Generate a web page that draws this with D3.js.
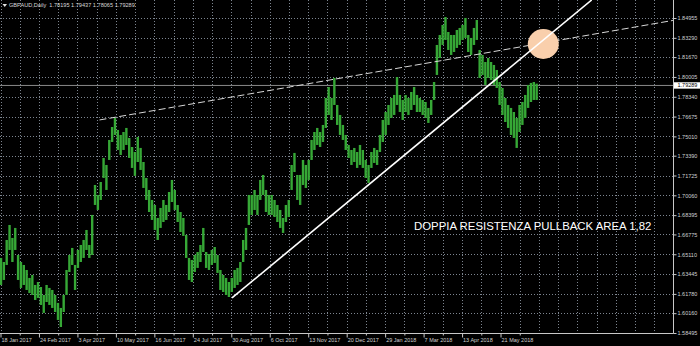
<!DOCTYPE html>
<html>
<head>
<meta charset="utf-8">
<script src="https://cdn.jsdelivr.net/npm/d3@7"></script>
<style>
  html, body { margin: 0; padding: 0; background: #000; }
  svg { display: block; }
</style>
</head>
<body>
<div id="chart"></div>
<script>
// GBPAUD daily, one entry per 2 trading days (bar i sits on trading day 2*i from 18 Jan 2017)
const barHigh = [
  1.6480, 1.6446, 1.6631, 1.6757, 1.6648, 1.6732, 1.6505, 1.6446, 1.6421, 1.6379,
  1.6312, 1.6337, 1.6253, 1.6278, 1.6236, 1.6169, 1.6253, 1.6228, 1.6211, 1.6169,
  1.6102, 1.6060, 1.6169, 1.6379, 1.6505, 1.6564, 1.6421, 1.6547, 1.6589, 1.6631,
  1.6715, 1.6589, 1.6841, 1.7093, 1.7009, 1.7118, 1.7320, 1.7261, 1.7471, 1.7580,
  1.7656, 1.7555, 1.7513, 1.7538, 1.7572, 1.7488, 1.7412, 1.7370, 1.7496, 1.7404,
  1.7286, 1.7152, 1.7051, 1.6967, 1.6925, 1.6816, 1.6900, 1.6967, 1.6925, 1.7034,
  1.7135, 1.7051, 1.6925, 1.6866, 1.6816, 1.6673, 1.6480, 1.6463, 1.6505, 1.6530,
  1.6589, 1.6732, 1.6530, 1.6513, 1.6547, 1.6572, 1.6505, 1.6379, 1.6337, 1.6312,
  1.6278, 1.6312, 1.6379, 1.6396, 1.6446, 1.6631, 1.6732, 1.7009, 1.7009, 1.7051,
  1.7009, 1.7135, 1.7177, 1.7051, 1.7009, 1.7009, 1.6967, 1.6925, 1.6883, 1.6816,
  1.6925, 1.6967, 1.7261, 1.7362, 1.7177, 1.7177, 1.7303, 1.7261, 1.7303, 1.7471,
  1.7538, 1.7572, 1.7538, 1.7597, 1.7824, 1.7916, 1.7824, 1.7992, 1.7765, 1.7681,
  1.7597, 1.7513, 1.7429, 1.7387, 1.7404, 1.7370, 1.7429, 1.7387, 1.7303, 1.7261,
  1.7370, 1.7404, 1.7387, 1.7513, 1.7639, 1.7706, 1.7765, 1.7824, 1.7849, 1.8000,
  1.7849, 1.7807, 1.7849, 1.7824, 1.7874, 1.7916, 1.7849, 1.7824, 1.7807, 1.7790,
  1.7740, 1.7807, 1.7958, 1.8269, 1.8353, 1.8437, 1.8504, 1.8378, 1.8353, 1.8353,
  1.8395, 1.8412, 1.8437, 1.8496, 1.8353, 1.8328, 1.8412, 1.8479, 1.8227, 1.8185,
  1.8126, 1.8160, 1.8126, 1.8101, 1.8059, 1.7958, 1.7908, 1.7824, 1.7765, 1.7740,
  1.7706, 1.7656, 1.7765, 1.7790, 1.7849, 1.7933, 1.7950, 1.7958, 1.7944
];
const barLow = [
  1.6253, 1.6295, 1.6421, 1.6547, 1.6446, 1.6547, 1.6295, 1.6228, 1.6253, 1.6211,
  1.6185, 1.6169, 1.6127, 1.6144, 1.6085, 1.6018, 1.6110, 1.6085, 1.6060, 1.6026,
  1.5959, 1.5900, 1.6026, 1.6169, 1.6362, 1.6421, 1.6211, 1.6396, 1.6446, 1.6480,
  1.6547, 1.6480, 1.6505, 1.6925, 1.6883, 1.6967, 1.7152, 1.7051, 1.7303, 1.7454,
  1.7513, 1.7387, 1.7345, 1.7387, 1.7429, 1.7320, 1.7236, 1.7169, 1.7286, 1.7219,
  1.7068, 1.6967, 1.6866, 1.6799, 1.6715, 1.6631, 1.6732, 1.6782, 1.6799, 1.6866,
  1.6950, 1.6883, 1.6782, 1.6698, 1.6665, 1.6480, 1.6295, 1.6278, 1.6362, 1.6396,
  1.6446, 1.6530, 1.6396, 1.6379, 1.6421, 1.6438, 1.6354, 1.6211, 1.6194, 1.6169,
  1.6152, 1.6194, 1.6228, 1.6253, 1.6278, 1.6446, 1.6547, 1.6757, 1.6841, 1.6883,
  1.6841, 1.6967, 1.7009, 1.6866, 1.6841, 1.6841, 1.6824, 1.6782, 1.6732, 1.6690,
  1.6782, 1.6824, 1.7051, 1.7202, 1.6967, 1.6925, 1.7093, 1.7068, 1.7135, 1.7303,
  1.7387, 1.7429, 1.7412, 1.7454, 1.7572, 1.7681, 1.7639, 1.7765, 1.7597, 1.7513,
  1.7471, 1.7387, 1.7320, 1.7261, 1.7286, 1.7236, 1.7261, 1.7236, 1.7152, 1.7110,
  1.7236, 1.7278, 1.7261, 1.7370, 1.7454, 1.7513, 1.7597, 1.7656, 1.7681, 1.7765,
  1.7706, 1.7639, 1.7706, 1.7681, 1.7723, 1.7765, 1.7706, 1.7706, 1.7681, 1.7656,
  1.7614, 1.7681, 1.7807, 1.8017, 1.8160, 1.8269, 1.8311, 1.8227, 1.8185, 1.8210,
  1.8244, 1.8269, 1.8311, 1.8328, 1.8210, 1.8185, 1.8269, 1.8311, 1.7992, 1.8017,
  1.7933, 1.7992, 1.7975, 1.7933, 1.7908, 1.7765, 1.7681, 1.7622, 1.7572, 1.7513,
  1.7488, 1.7404, 1.7538, 1.7597, 1.7656, 1.7740, 1.7790, 1.7807, 1.7807
];

const priceTicks = [1.84955, 1.83290, 1.81670, 1.80005, 1.78340, 1.76675, 1.75010, 1.73390,
  1.71725, 1.70060, 1.68395, 1.66775, 1.65110, 1.63445, 1.61780, 1.60160, 1.58495];
const dateLabels = ['18 Jan 2017', '24 Feb 2017', '3 Apr 2017', '10 May 2017', '16 Jun 2017',
  '24 Jul 2017', '30 Aug 2017', '6 Oct 2017', '13 Nov 2017', '20 Dec 2017', '29 Jan 2018',
  '7 Mar 2018', '13 Apr 2018', '21 May 2018'];
const labelStep = 27;   // trading days between date labels
const lastPrice = 1.79289;
const header = 'GBPAUD,Daily  1.78195 1.79437 1.78065 1.79289';

// hand-drawn objects (trading day, price)
const resistance = [{day: 69.5, price: 1.7639}, {day: 472, price: 1.8475}];
const support = [{day: 162.5, price: 1.6144}, {day: 415, price: 1.8647}];
const pullbackArea = {day: 381, price: 1.8277};
const note = 'DOPPIA RESISTENZA PULLBACK AREA 1,82';

const width = 700, height = 346;
const plotRight = 673, plotBottom = 333;

const svg = d3.select('#chart').append('svg')
  .attr('width', width)
  .attr('height', height)
  .style('background', '#000');

const x = d3.scaleLinear().domain([0, 472]).range([0.5, 672.9]);
const y = d3.scaleLinear().domain([1.58495, 1.84955]).range([plotBottom, 18]);

svg.append('clipPath').attr('id', 'plot')
  .append('rect').attr('x', 0).attr('y', 0).attr('width', plotRight).attr('height', plotBottom);

const gridColor = '#7d8590';

// grid
svg.append('g').selectAll('line')
  .data(priceTicks)
  .enter().append('line')
  .attr('x1', 0).attr('x2', plotRight)
  .attr('y1', d => Math.round(y(d)) + 0.5).attr('y2', d => Math.round(y(d)) + 0.5)
  .attr('stroke', gridColor).attr('stroke-dasharray', '1,2');

svg.append('g').selectAll('line')
  .data(d3.range(0, 472, labelStep / 2))
  .enter().append('line')
  .attr('x1', d => Math.round(x(d)) + 0.5).attr('x2', d => Math.round(x(d)) + 0.5)
  .attr('y1', 0).attr('y2', plotBottom)
  .attr('stroke', gridColor).attr('stroke-dasharray', '1,2');

// current price line
svg.append('line')
  .attr('x1', 0).attr('x2', plotRight)
  .attr('y1', y(lastPrice)).attr('y2', y(lastPrice))
  .attr('stroke', '#8a8a8a').attr('stroke-width', 1);

// bars
svg.append('g').attr('clip-path', 'url(#plot)')
  .selectAll('line')
  .data(barHigh)
  .enter().append('line')
  .attr('x1', (d, i) => x(i * 2) + 0.5)
  .attr('x2', (d, i) => x(i * 2) + 0.5)
  .attr('y1', d => y(d))
  .attr('y2', (d, i) => y(barLow[i]))
  .attr('stroke', '#36a836')
  .attr('stroke-width', 2.4);

const objects = svg.append('g').attr('clip-path', 'url(#plot)');
const line = d3.line().x(d => x(d.day)).y(d => y(d.price));

objects.append('path')
  .attr('d', line(resistance))
  .attr('fill', 'none')
  .attr('stroke', '#d8d8d8')
  .attr('stroke-width', 1)
  .attr('stroke-dasharray', '7,3');

objects.append('ellipse')
  .attr('cx', x(pullbackArea.day))
  .attr('cy', y(pullbackArea.price))
  .attr('rx', 15.5).attr('ry', 15)
  .attr('fill', '#f9cfac');

objects.append('path')
  .attr('d', line(support))
  .attr('fill', 'none')
  .attr('stroke', '#ffffff')
  .attr('stroke-width', 1.6);

// right price axis
svg.append('line')
  .attr('x1', plotRight + 0.5).attr('x2', plotRight + 0.5)
  .attr('y1', 0).attr('y2', plotBottom + 0.5)
  .attr('stroke', '#c8c8c8');

const yAxis = svg.append('g')
  .attr('transform', `translate(${plotRight + 0.5},0)`)
  .call(d3.axisRight(y).tickValues(priceTicks).tickFormat(d3.format('.5f')).tickSize(3).tickPadding(1));
yAxis.select('.domain').remove();
yAxis.selectAll('line').attr('stroke', '#c8c8c8');
yAxis.selectAll('text')
  .attr('fill', '#d0d0d0')
  .attr('font-family', 'Liberation Sans, Arial, sans-serif')
  .attr('font-size', 5.5);

// last price tag
svg.append('rect')
  .attr('x', plotRight + 1).attr('y', y(lastPrice) - 3.2)
  .attr('width', 26).attr('height', 6.4)
  .attr('fill', '#ffffff');
svg.append('text')
  .attr('x', plotRight + 4.5).attr('y', y(lastPrice) + 2)
  .attr('fill', '#000')
  .attr('font-family', 'Liberation Sans, Arial, sans-serif')
  .attr('font-size', 5.5)
  .text(d3.format('.5f')(lastPrice));

// bottom date axis
svg.append('line')
  .attr('x1', 0).attr('x2', plotRight + 0.5)
  .attr('y1', plotBottom + 0.5).attr('y2', plotBottom + 0.5)
  .attr('stroke', '#c8c8c8');

const xAxis = svg.append('g')
  .attr('transform', `translate(0,${plotBottom + 0.5})`)
  .call(d3.axisBottom(x)
    .tickValues(dateLabels.map((d, i) => i * labelStep))
    .tickFormat((d, i) => dateLabels[i])
    .tickSize(4));
xAxis.select('.domain').remove();
xAxis.selectAll('line').attr('stroke', '#c8c8c8');
xAxis.selectAll('text')
  .attr('text-anchor', 'start')
  .attr('x', 0.5)
  .attr('y', 5)
  .attr('fill', '#d0d0d0')
  .attr('font-family', 'Liberation Sans, Arial, sans-serif')
  .attr('font-size', 5.5);

const xMinor = svg.append('g')
  .attr('transform', `translate(0,${plotBottom + 0.5})`)
  .call(d3.axisBottom(x)
    .tickValues(dateLabels.map((d, i) => i * labelStep + labelStep / 2))
    .tickFormat('')
    .tickSize(2));
xMinor.select('.domain').remove();
xMinor.selectAll('line').attr('stroke', '#c8c8c8');

// header
svg.append('path')
  .attr('d', 'M2.5,4 L7,4 L4.75,7 Z')
  .attr('fill', '#e0e0e0');
svg.append('text')
  .attr('x', 9).attr('y', 7)
  .attr('fill', '#d8d8d8')
  .attr('font-family', 'Liberation Sans, Arial, sans-serif')
  .attr('font-size', 5.6)
  .attr('xml:space', 'preserve')
  .style('white-space', 'pre')
  .text(header);

// annotation
svg.append('text')
  .attr('x', 414).attr('y', 229.5)
  .attr('fill', '#ffffff')
  .attr('font-family', 'Liberation Sans, Arial, sans-serif')
  .attr('font-size', 11.4)
  .text(note);
</script>
</body>
</html>
